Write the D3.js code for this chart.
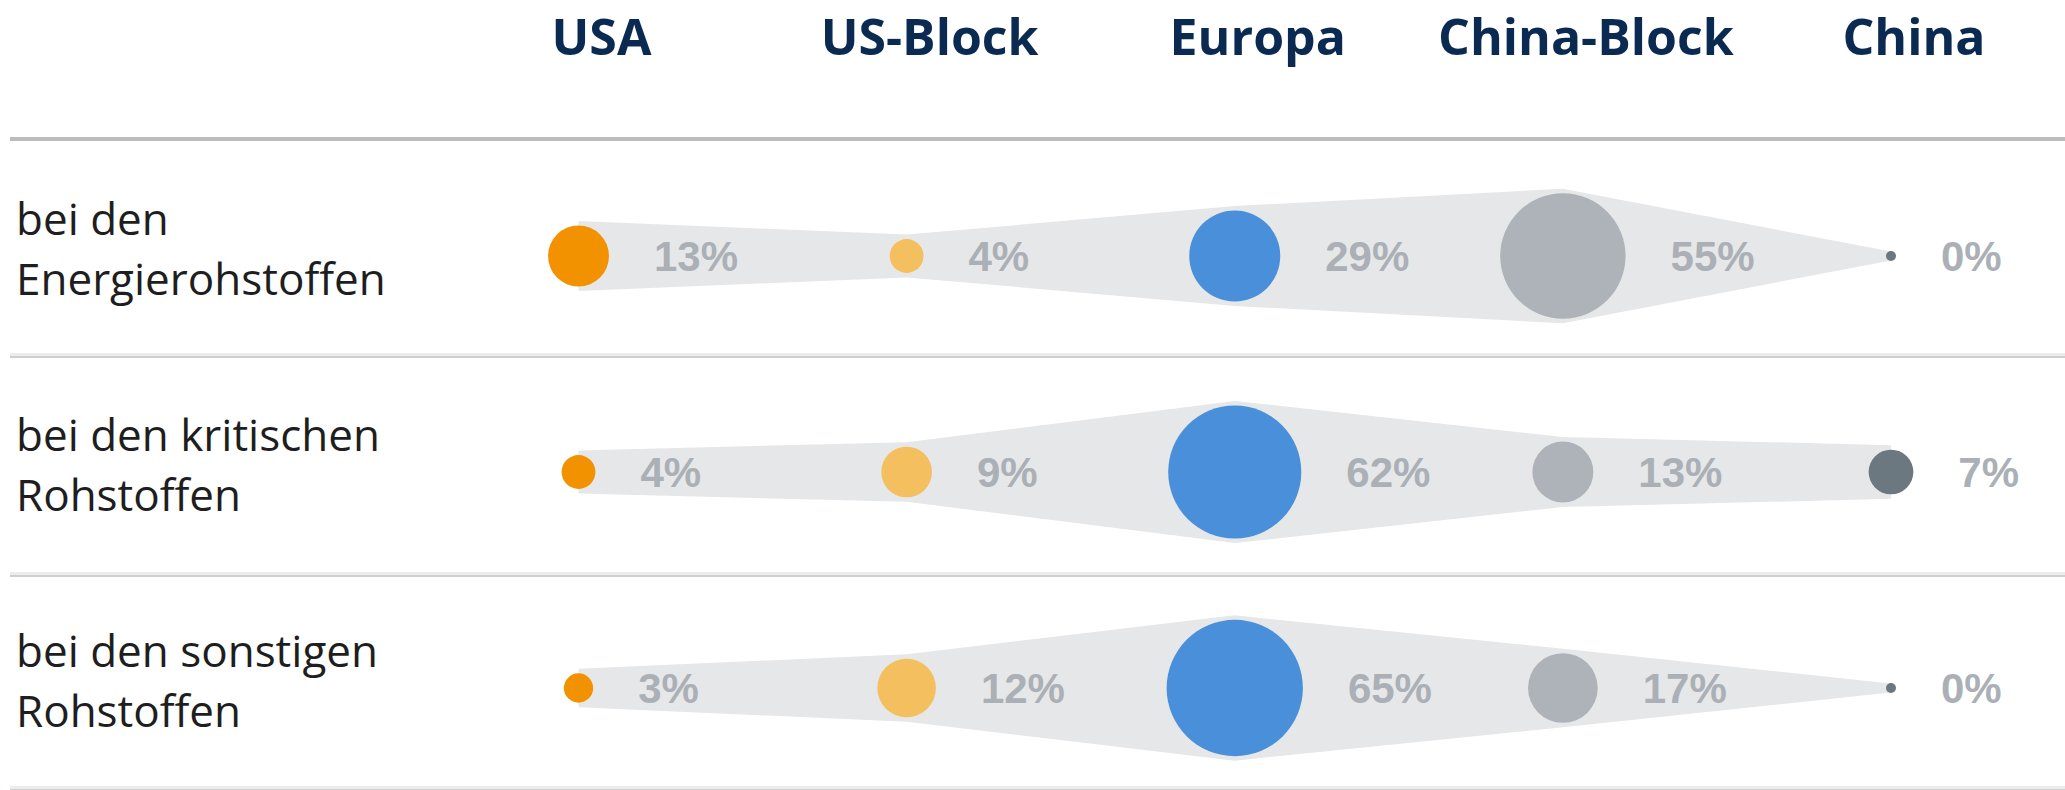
<!DOCTYPE html>
<html>
<head>
<meta charset="utf-8">
<script src="https://cdn.jsdelivr.net/npm/d3@7"></script>
<style>
  body { margin: 0; background: #fff; }
  svg { display: block; }
</style>
</head>
<body>
<div id="viz"></div>
<script>
// Anteile nach Region
const regions = ["USA", "US-Block", "Europa", "China-Block", "China"];
const regionColors = ["#f39200", "#f3bf5f", "#4a8fd9", "#adb3b9", "#6b7880"];
const rowLabels = [
    ["bei den", "Energierohstoffen"],
    ["bei den kritischen", "Rohstoffen"],
    ["bei den sonstigen", "Rohstoffen"]
];
const energie = [13, 4, 29, 55, 0];
const kritisch = [4, 9, 62, 13, 7];
const sonstige = [3, 12, 65, 17, 0];

const rows = [energie, kritisch, sonstige];

const W = 2065, H = 790;

const svg = d3.select("#viz").append("svg")
    .attr("width", W)
    .attr("height", H);

// Spalten und Zeilen
const x = d3.scalePoint()
    .domain(regions)
    .range([578.5, 1891]);

const y = d3.scalePoint()
    .domain(d3.range(rows.length))
    .range([256, 688]);

const r = d3.scaleSqrt()
    .domain([0, 100])
    .range([0, 84.5]);

const color = d3.scaleOrdinal()
    .domain(regions)
    .range(regionColors);

const pad = 4.5;   // Band etwas breiter als die Kreise
const minR = 5;

// Kopfzeile
svg.append("g")
    .selectAll("text")
    .data(regions)
    .join("text")
    .attr("x", d => x(d) + 23)
    .attr("y", 55)
    .attr("text-anchor", "middle")
    .attr("font-family", "'Open Sans', sans-serif")
    .attr("font-weight", 700)
    .attr("font-size", 50)
    .attr("fill", "#0b2a52")
    .text(d => d);

// Trennlinien
svg.append("rect")
    .attr("x", 10).attr("y", 137)
    .attr("width", W - 10).attr("height", 4)
    .attr("fill", "#bcbcbc");

const sepY = [353, 572, 786];
const seps = svg.append("g").selectAll("g")
    .data(sepY)
    .join("g");
seps.append("rect")
    .attr("x", 10).attr("y", d => d)
    .attr("width", W - 10).attr("height", 3)
    .attr("fill", "#ececec");
seps.append("rect")
    .attr("x", 10).attr("y", d => d + 3)
    .attr("width", W - 10).attr("height", 2)
    .attr("fill", "#ccd0d2");

// Zeilenbeschriftung
const labels = svg.append("g")
    .selectAll("text")
    .data(rowLabels)
    .join("text")
    .attr("font-family", "'Open Sans', sans-serif")
    .attr("font-size", 44)
    .attr("fill", "#1e1e1e");

labels.selectAll("tspan")
    .data((d, i) => d.map((t, j) => ({ t, j, i })))
    .join("tspan")
    .attr("x", 16)
    .attr("y", d => y(d.i) + (d.j === 0 ? -21 : 39))
    .text(d => d.t);

// Band + Kreise + Werte
const area = d3.area()
    .x((d, i) => x(regions[i]))
    .y0(d => r(d) + pad)
    .y1(d => -r(d) - pad);

const rowG = svg.append("g")
    .selectAll("g")
    .data(rows)
    .join("g")
    .attr("transform", (d, i) => `translate(0,${y(i)})`);

rowG.append("path")
    .attr("d", d => area(d))
    .attr("fill", "#e6e7e8");

rowG.selectAll("circle")
    .data(d => d.map((v, i) => ({ v, region: regions[i] })))
    .join("circle")
    .attr("cx", d => x(d.region))
    .attr("cy", 0)
    .attr("r", d => Math.max(r(d.v), minR))
    .attr("fill", d => color(d.region));

rowG.selectAll("text")
    .data(d => d.map((v, i) => ({ v, region: regions[i] })))
    .join("text")
    .attr("x", d => x(d.region) + Math.max(r(d.v), minR) + 45)
    .attr("y", 15)
    .attr("font-family", "'Liberation Sans', Arial, sans-serif")
    .attr("font-weight", 700)
    .attr("font-size", 42)
    .attr("fill", "#aab0b5")
    .text(d => `${d.v}%`);
</script>
</body>
</html>
